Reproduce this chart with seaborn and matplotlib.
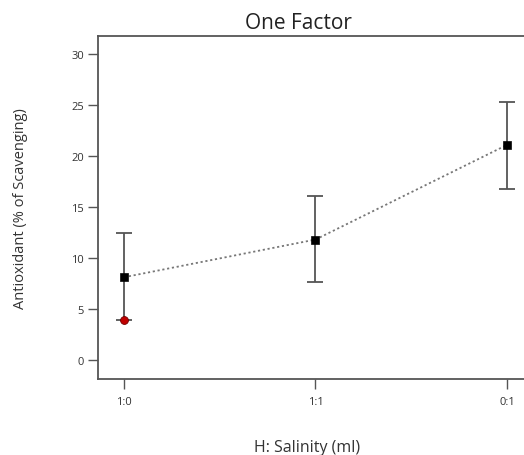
import numpy as np
import pandas as pd
import matplotlib
matplotlib.use("Agg")
import matplotlib.pyplot as plt
import seaborn as sns

# ===============================
# Data
# ===============================
levels = ["1:0", "1:1", "0:1"]
means = [8.1, 11.8, 21.1]
lower = [3.9, 7.6, 16.8]
upper = [12.4, 16.1, 25.3]
actual_level = ["1:0"]
actual_value = [3.85]

sns.set_style("ticks")
plt.rcParams["font.family"] = ["Open Sans", "DejaVu Sans"]

df = pd.DataFrame({"level": levels, "mean": means, "lo": lower, "hi": upper})
df["x"] = np.arange(len(levels))
pts = pd.DataFrame({"x": [levels.index(l) for l in actual_level], "y": actual_value})

fig = plt.figure(figsize=(5.24, 4.56), dpi=100)
ax = fig.add_axes([98 / 524, 1 - 380 / 456, 1 - 98 / 524, (380 - 37) / 456])

grey = "#555555"
txt = "#333333"

# error bars
ax.errorbar(df["x"], df["mean"],
            yerr=[df["mean"] - df["lo"], df["hi"] - df["mean"]],
            fmt="none", ecolor=grey, elinewidth=1.3, capsize=6, capthick=1.3, zorder=2)

# dotted connecting line + square markers
sns.lineplot(data=df, x="x", y="mean", ax=ax, color="#777777", lw=1.3,
             linestyle=(0, (1.2, 1.5)), zorder=3)
sns.scatterplot(data=df, x="x", y="mean", ax=ax, marker="s", s=34, color="black",
                edgecolor="black", zorder=4)
# actual design point
sns.scatterplot(data=pts, x="x", y="y", ax=ax, marker="o", s=32, color="#c00000",
                edgecolor="#700000", linewidth=0.6, zorder=5)

ax.set_xlim(-0.136, 2.089)
ax.set_ylim(-1.9, 31.8)
ax.set_xticks(df["x"])
ax.set_xticklabels(levels)
ax.set_yticks([0, 5, 10, 15, 20, 25, 30])

for side in ["left", "bottom", "top"]:
    ax.spines[side].set_color(grey)
    ax.spines[side].set_linewidth(1.3)
ax.spines["right"].set_visible(False)

ax.tick_params(axis="y", length=7, width=1.0, color=grey, labelsize=8, labelcolor=txt, pad=3)
ax.tick_params(axis="x", length=7, width=1.0, color=grey, labelsize=8, labelcolor=txt, pad=5)

ax.set_title("One Factor", fontsize=15, color="#222222")
ax.title.set_position((0.47, 1.0))
ax.set_xlabel("H: Salinity (ml)", fontsize=11.5, color=txt)
ax.set_ylabel("Antioxidant (% of Scavenging)", fontsize=10.5, color=txt)
ax.xaxis.set_label_coords(0.49, -0.176)
ax.yaxis.set_label_coords(-0.165, 0.5)

fig.savefig("out.png", dpi=100)
